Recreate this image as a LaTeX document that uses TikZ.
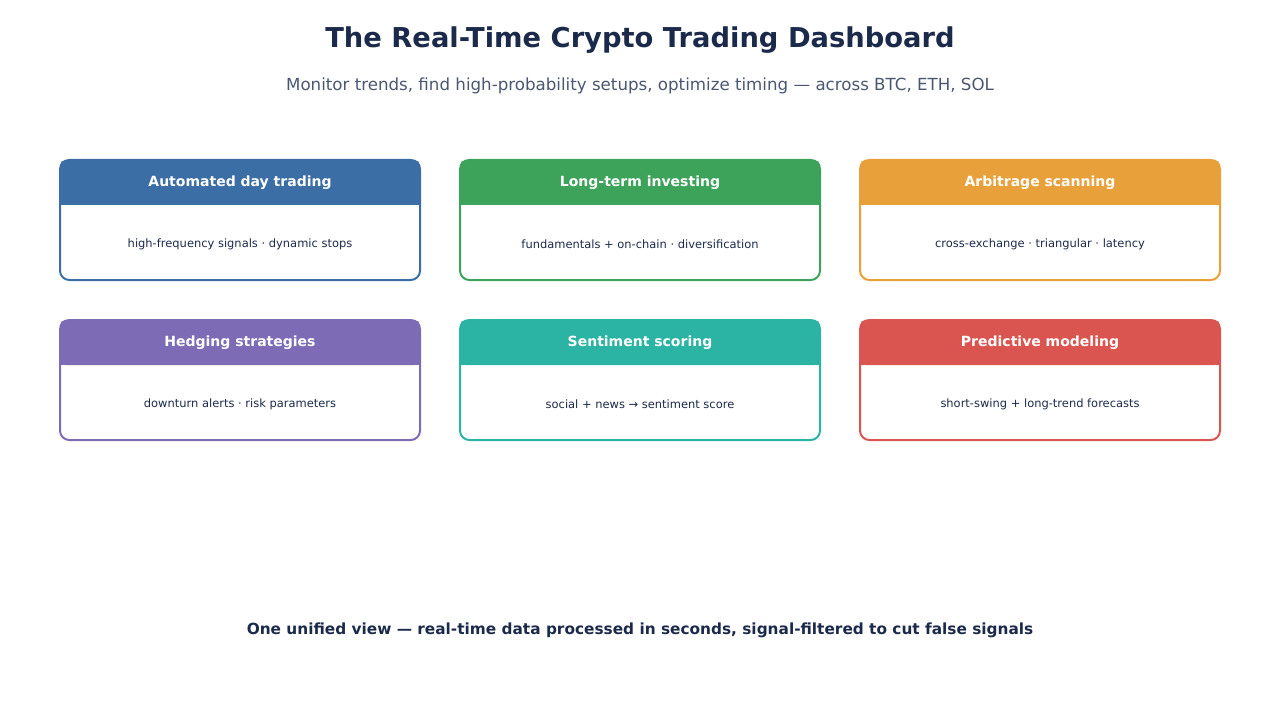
\documentclass[tikz,border=0pt]{standalone}
\usepackage{fontspec}
\setmainfont{DejaVu Sans}
\definecolor{navy}{HTML}{1B2A4A}
\definecolor{sub}{HTML}{4A5770}
\definecolor{cA}{HTML}{3B6EA5}
\definecolor{cB}{HTML}{3DA35A}
\definecolor{cC}{HTML}{E8A13A}
\definecolor{cD}{HTML}{7E6BB5}
\definecolor{cE}{HTML}{2BB3A3}
\definecolor{cF}{HTML}{DB5550}
\begin{document}
\begin{tikzpicture}[x=0.75pt,y=-0.75pt,
  hdr/.style={font=\bfseries\fontsize{10.5}{12}\selectfont,text=white},
  bodytxt/.style={font=\fontsize{8.6}{10}\selectfont,text=navy}]
\path[use as bounding box] (0,0) rectangle (1280,720);
\node[font=\bfseries\fontsize{20.5}{24}\selectfont,text=navy] (title) at (640,40) {The Real-Time Crypto Trading Dashboard};
\node[font=\fontsize{12.5}{15}\selectfont,text=sub] (subtitle) at (640,86) {Monitor trends, find high-probability setups, optimize timing — across BTC, ETH, SOL};
\foreach \x/\y/\c/\h/\b/\n in {
 60/160/cA/Automated day trading/high-frequency signals · dynamic stops/a,
 460/160/cB/Long-term investing/fundamentals + on-chain · diversification/b,
 860/160/cC/Arbitrage scanning/cross-exchange · triangular · latency/c,
 60/320/cD/Hedging strategies/downturn alerts · risk parameters/d,
 460/320/cE/Sentiment scoring/social + news → sentiment score/e,
 860/320/cF/Predictive modeling/short-swing + long-trend forecasts/f}{
  \fill[\c,rounded corners=4pt] (\x,\y) rectangle (\x+360,\y+45);
  \draw[\c,line width=1.5pt,rounded corners=7pt] (\x,\y) rectangle (\x+360,\y+120);
  \fill[\c] (\x,\y+10) rectangle (\x+360,\y+45);
  \node[hdr] (h\n) at (\x+180,\y+22.5) {\h};
  \node[bodytxt] (t\n) at (\x+180,\y+84.5) {\b};
}
\node[font=\bfseries\fontsize{11.5}{14}\selectfont,text=navy] (footer) at (640,630) {One unified view — real-time data processed in seconds, signal-filtered to cut false signals};
\end{tikzpicture}
\end{document}
